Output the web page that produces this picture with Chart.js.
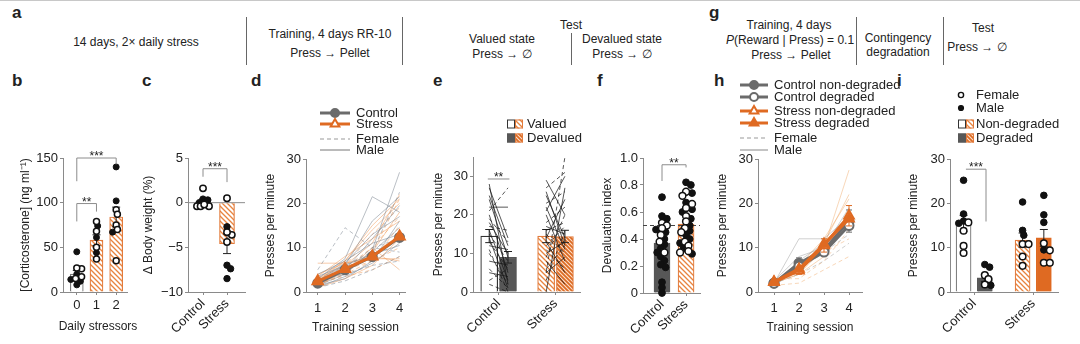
<!DOCTYPE html>
<html>
<head>
<meta charset="utf-8">
<script src="https://cdn.jsdelivr.net/npm/chart.js@4.4.1/dist/chart.umd.min.js"></script>
<style>
  body { margin: 0; background: #fff; width: 1080px; height: 344px; overflow: hidden; position: relative;
         font-family: 'Liberation Sans', Arial, Helvetica, sans-serif; color: #222; }
  canvas { position: absolute; }
  .t { position: absolute; font-size: 12px; line-height: 1; white-space: nowrap; transform: translate(-50%, -50%); }
  .L { position: absolute; font-weight: bold; font-size: 17px; line-height: 1; }
  .v { position: absolute; width: 1px; background: #666; }
</style>
</head>
<body>
<div style="position:absolute;left:0;top:0;width:1080px;height:1px;background:#c8c8c8"></div>

<div class="L" style="left:12px;top:4px">a</div>
<div class="t" style="left:136px;top:42px">14 days, 2× daily stress</div>
<div class="v" style="left:246px;top:17px;height:48px"></div>
<div class="t" style="left:330px;top:34px">Training, 4 days RR-10</div>
<div class="t" style="left:330px;top:53px">Press → Pellet</div>
<div class="v" style="left:402px;top:17px;height:48px"></div>
<div class="t" style="left:571px;top:25px">Test</div>
<div class="t" style="left:502px;top:39px">Valued state</div>
<div class="t" style="left:502px;top:54px">Press → ∅</div>
<div class="v" style="left:571px;top:33px;height:32px"></div>
<div class="t" style="left:622px;top:39px">Devalued state</div>
<div class="t" style="left:622px;top:54px">Press → ∅</div>

<div class="L" style="left:709px;top:4px">g</div>
<div class="t" style="left:789px;top:25px">Training, 4 days</div>
<div class="t" style="left:790px;top:40px"><i>P</i>(Reward | Press) = 0.1</div>
<div class="t" style="left:791px;top:55px">Press → Pellet</div>
<div class="v" style="left:856px;top:17px;height:48px"></div>
<div class="t" style="left:898px;top:38px">Contingency</div>
<div class="t" style="left:898px;top:52px">degradation</div>
<div class="v" style="left:943px;top:17px;height:48px"></div>
<div class="t" style="left:983px;top:28px">Test</div>
<div class="t" style="left:977px;top:47px">Press → ∅</div>

<div class="L" style="left:12px;top:72px">b</div>
<div class="L" style="left:142px;top:72px">c</div>
<div class="L" style="left:251px;top:72px">d</div>
<div class="L" style="left:433px;top:72px">e</div>
<div class="L" style="left:597px;top:72px">f</div>
<div class="L" style="left:714px;top:72px">h</div>
<div class="L" style="left:897px;top:72px">i</div>

<script>
// ---------- data ----------
// b: corticosterone by number of daily stressors
const bLabels = ['0', '1', '2'];
const bMeans = [20, 58, 84];
const bSem = [4, 6, 11];
const bFemale = [[26, 27, 17, 15], [79, 68, 50, 37], [92, 87, 75, 70, 35]];
const bMale = [[45, 20, 14, 12, 8], [74, 61, 44], [140, 102, 67]];

// c: body weight change
const cLabels = ['Control', 'Stress'];
const cMeans = [0.1, -4.6];
const cSem = [0.3, 1.1];
const cFemale = [[1.6, -0.4, -0.4, -0.4, -0.2], [0.5, -3.6, -3.3, -4.4]];
const cMale = [[0.4, 0.3, 0.0], [-2.7, -7.0, -7.4, -8.5]];

// d: training, presses per minute
const sessions = [1, 2, 3, 4];
const dCtrlMean = [2.0, 5.0, 8.0, 12.3];
const dStressMean = [2.4, 5.2, 8.0, 12.5];
const dCtrlMale = [
  [1.5, 4.0, 9.5, 27.0], [2.5, 6.0, 16.0, 21.5], [3.0, 7.5, 21.5, 18.0], [2.0, 5.0, 12.0, 19.5],
  [1.0, 3.5, 6.5, 11.0], [2.0, 4.5, 9.0, 14.5], [3.5, 6.0, 8.5, 10.5], [1.5, 3.0, 7.0, 16.0],
  [4.0, 7.0, 11.0, 13.0], [2.5, 6.5, 13.0, 17.0]
];
const dCtrlFemale = [
  [5.0, 14.5, 10.0, 12.0], [2.0, 5.0, 10.0, 9.0], [1.0, 2.5, 5.0, 8.0], [3.0, 4.0, 6.0, 7.0], [2.0, 6.0, 9.0, 22.5]
];
const dStressMale = [
  [3.0, 6.0, 11.0, 22.0], [2.0, 5.0, 9.0, 18.0], [3.0, 7.0, 14.0, 20.0], [1.0, 3.0, 6.0, 12.0],
  [4.0, 6.5, 8.0, 7.0], [3.5, 8.0, 12.0, 16.0], [6.5, 6.5, 7.5, 7.5], [2.5, 7.0, 15.0, 21.0], [1.5, 4.5, 10.0, 5.0]
];
const dStressFemale = [
  [1.5, 4.0, 7.0, 15.0], [2.5, 5.5, 10.0, 17.0], [2.0, 4.0, 9.0, 21.0], [1.5, 5.0, 7.0, 10.0],
  [2.0, 3.5, 5.0, 8.0], [3.0, 6.0, 13.0, 19.0]
];

// e: valued vs devalued test
const eMeans = { ctrl: [14.5, 9.0], stress: [14.5, 14.4] };
const eSem = { ctrl: [1.7, 1.5], stress: [1.7, 1.6] };
const eCtrlMale = [[28, 2], [27, 14], [25, 12], [22, 22], [20, 5], [18, 10], [16, 3], [14, 1], [12, 11], [8, 7], [5, 4], [24, 9]];
const eCtrlFemale = [[21, 27], [17, 16], [15, 8], [13, 6], [10, 2], [6, 1], [3, 6], [2, 0], [19, 13], [11, 0]];
const eStressMale = [[29, 20], [26, 12], [25, 14], [21, 30], [20, 8], [17, 15], [14, 24], [13, 5], [10, 13], [8, 2], [5, 9], [0, 27], [22, 11]];
const eStressFemale = [[5, 35], [27, 31], [23, 26], [18, 22], [16, 18], [15, 10], [12, 17], [9, 20], [6, 12], [3, 16], [11, 6]];

// f: devaluation index
const fMeans = [0.37, 0.51];
const fSem = [0.04, 0.03];
const fFemale = [
  [0.52, 0.50, 0.48, 0.43, 0.38, 0.30],
  [0.75, 0.72, 0.66, 0.63, 0.57, 0.53, 0.48, 0.45, 0.38, 0.35, 0.31, 0.30]
];
const fMale = [
  [0.71, 0.57, 0.55, 0.47, 0.45, 0.40, 0.36, 0.33, 0.30, 0.27, 0.24, 0.21, 0.19, 0.08, 0.04, 0.00],
  [0.82, 0.80, 0.74, 0.67, 0.62, 0.60, 0.55, 0.50, 0.46, 0.43, 0.40, 0.37, 0.33, 0.29]
];

// h: contingency degradation training
const hCtrlND = [2.0, 6.5, 9.5, 16.0];
const hCtrlD = [2.0, 5.8, 9.0, 15.0];
const hStressND = [2.2, 4.8, 10.5, 17.2];
const hStressD = [2.3, 5.2, 10.8, 16.5];
const hCtrlSem = [0.3, 1.2, 0.9, 2.5];
const hStressSem = [0.3, 0.8, 1.5, 2.3];
const hCtrlMale = [[2, 12, 12, 17], [2, 7, 11, 16], [2.5, 8, 10, 19]];
const hCtrlFemale = [[1.5, 5, 9, 13], [2, 4, 7, 11]];
const hStressMale = [[2, 4, 10, 27.5], [2, 5, 11, 22], [2, 6, 12, 21], [2, 4, 8, 17]];
const hStressFemale = [[3, 3, 7, 14], [1.5, 2, 5, 8], [2.5, 5, 9, 12]];

// i: degradation test
const iMeans = [15.5, 3.2, 11.7, 12.2];   // ctrl ND, ctrl D, stress ND, stress D
const iSem = [1.8, 0.8, 1.6, 1.9];
const iFemale = [[15.7, 13.8, 10.4, 8.8], [3.8, 2.9, 1.7], [10.8, 10.8, 8.0, 5.9], [11.0, 9.4, 6.6, 6.6]];
const iMale = [[25.2, 17.6, 16.0, 15.5], [6.2, 5.6, 1.5], [20.3, 13.9, 12.8], [21.8, 17.4, 15.7, 9.5]];

// ---------- styling ----------
Chart.defaults.font.family = "'Liberation Sans', Arial, Helvetica, sans-serif";
Chart.defaults.font.size = 13;
Chart.defaults.color = '#222';
Chart.defaults.animation = false;
Chart.defaults.events = [];
Chart.defaults.plugins.legend.display = false;
Chart.defaults.plugins.tooltip.enabled = false;

const AX = '#8a8a8a';
const GREY = '#6b6b6b';
const DARK = '#575757';
const ORANGE = '#df6a22';
const ORANGE_EDGE = '#e27b3c';

function hatch(bg, fg, s, w) {
  const c = document.createElement('canvas');
  c.width = c.height = s;
  const x = c.getContext('2d');
  x.fillStyle = bg; x.fillRect(0, 0, s, s);
  x.strokeStyle = fg; x.lineWidth = w;
  x.beginPath();
  x.moveTo(-1, -1); x.lineTo(s + 1, s + 1);
  x.moveTo(-1, s - 1); x.lineTo(1, s + 1);
  x.moveTo(s - 1, -1); x.lineTo(s + 1, 1);
  x.stroke();
  return x.createPattern(c, 'repeat');
}
const HATCH = hatch('#ffffff', '#e8843f', 5, 1.3);
const HATCH_DENSE = hatch('#dc6a22', '#fbe0cc', 4, 1.1);

// plot rectangles on the page
const G = {
  b: { L: 63, T: 158, R: 127, B: 292, yw: 49, xh: 47, pt: 20, pr: 16 },
  c: { L: 188, T: 158, R: 245, B: 292, yw: 51, xh: 50, pt: 20, pr: 6 },
  d: { L: 306, T: 159, R: 407, B: 292, yw: 47, xh: 47, pt: 60, pr: 6 },
  e: { L: 473, T: 157, R: 580, B: 292, yw: 46, xh: 50, pt: 45, pr: 6 },
  f: { L: 643, T: 158, R: 700, B: 293, yw: 47, xh: 50, pt: 20, pr: 6 },
  h: { L: 758, T: 159, R: 862, B: 292, yw: 47, xh: 47, pt: 82, pr: 40 },
  i: { L: 950, T: 159, R: 1058, B: 292, yw: 48, xh: 50, pt: 74, pr: 10 }
};

// ---------- plugins ----------
const errPlugin = {
  id: 'err',
  afterDatasetDraw(chart, args) {
    const ds = chart.data.datasets[args.index];
    if (!ds.sem) return;
    const ctx = chart.ctx, xs = chart.scales.x, ys = chart.scales.y;
    const cap = ds.cap || 4;
    ctx.save();
    ctx.strokeStyle = ds.semColor || '#222';
    ctx.lineWidth = 1;
    ds.data.forEach((p, j) => {
      const s = ds.sem[j];
      if (!s) return;
      const x = xs.getPixelForValue(p.x);
      const y1 = ys.getPixelForValue(p.y + s), y0 = ys.getPixelForValue(p.y - s);
      ctx.beginPath();
      ctx.moveTo(x, y0); ctx.lineTo(x, y1);
      ctx.moveTo(x - cap, y1); ctx.lineTo(x + cap, y1);
      ctx.moveTo(x - cap, y0); ctx.lineTo(x + cap, y0);
      ctx.stroke();
    });
    ctx.restore();
  }
};

function sigPlugin(items) {
  return {
    id: 'sig',
    afterDraw(chart) {
      const ctx = chart.ctx, xs = chart.scales.x, ys = chart.scales.y;
      ctx.save();
      ctx.strokeStyle = '#8c8c8c';
      ctx.lineWidth = 1;
      ctx.fillStyle = '#222';
      ctx.font = "12px 'Liberation Sans', Arial, sans-serif";
      ctx.textAlign = 'center';
      ctx.textBaseline = 'alphabetic';
      items.forEach(it => {
        const x1 = xs.getPixelForValue(it.x1), x2 = xs.getPixelForValue(it.x2), y = ys.getPixelForValue(it.y);
        ctx.beginPath();
        if (it.y1 != null) { ctx.moveTo(x1, ys.getPixelForValue(it.y1)); ctx.lineTo(x1, y); } else ctx.moveTo(x1, y);
        ctx.lineTo(x2, y);
        if (it.y2 != null) ctx.lineTo(x2, ys.getPixelForValue(it.y2));
        ctx.stroke();
        ctx.fillText(it.text, (x1 + x2) / 2, y + 2);
      });
      ctx.restore();
    }
  };
}

function keyPlugin(items) {
  return {
    id: 'keys',
    afterDraw(chart) {
      const ctx = chart.ctx;
      const ox = chart.canvas.offsetLeft, oy = chart.canvas.offsetTop;
      ctx.save();
      ctx.textBaseline = 'middle';
      items.forEach(it => {
        const x = it.x - ox, y = it.y - oy;
        if (it.kind === 'text') {
          ctx.fillStyle = '#222';
          ctx.textAlign = 'center';
          ctx.font = "12px 'Liberation Sans', Arial, sans-serif";
          ctx.fillText(it.text, x, y);
          ctx.textAlign = 'left';
          return;
        }
        if (it.kind === 'line') {
          ctx.strokeStyle = it.color; ctx.lineWidth = it.width;
          ctx.setLineDash(it.dash || []);
          ctx.beginPath(); ctx.moveTo(x, y); ctx.lineTo(x + it.len, y); ctx.stroke();
          ctx.setLineDash([]);
          if (it.marker) {
            ctx.fillStyle = it.mfill; ctx.strokeStyle = it.color; ctx.lineWidth = 2;
            Chart.helpers.drawPoint(ctx, { pointStyle: it.marker, radius: it.mr, borderWidth: 2, rotation: 0 }, x + it.len / 2, y);
          }
        } else if (it.kind === 'box2') {
          ctx.lineWidth = 1;
          ctx.fillStyle = it.left; ctx.fillRect(x, y - 4.5, 8, 9);
          ctx.strokeStyle = it.leftEdge; ctx.strokeRect(x + 0.5, y - 4, 7, 8);
          ctx.fillStyle = it.right; ctx.fillRect(x + 8, y - 4.5, 8, 9);
          ctx.strokeStyle = ORANGE_EDGE; ctx.strokeRect(x + 8.5, y - 4, 7, 8);
        } else if (it.kind === 'dot') {
          ctx.fillStyle = it.open ? '#fff' : '#111'; ctx.strokeStyle = '#111'; ctx.lineWidth = 1.4;
          ctx.beginPath(); ctx.arc(x, y, it.open ? 2.6 : 2.4, 0, Math.PI * 2); ctx.fill(); ctx.stroke();
        }
        ctx.fillStyle = '#222';
        ctx.font = "13px 'Liberation Sans', Arial, sans-serif";
        ctx.fillText(it.text, it.tx - ox, y);
      });
      ctx.restore();
    }
  };
}

// ---------- helpers ----------
function scaleX(g, range, ticks, labels, title, rot, pad) {
  return {
    type: 'linear', min: range[0], max: range[1], offset: false,
    afterBuildTicks: s => { s.ticks = ticks.map(v => ({ value: v })); },
    afterFit: s => { s.height = g.xh; },
    ticks: { autoSkip: false, minRotation: rot, maxRotation: rot, padding: pad, callback: v => labels[ticks.indexOf(v)] },
    grid: { display: true, offset: false, drawOnChartArea: false, drawTicks: true, tickLength: 3, color: AX },
    border: { display: true, color: AX, width: 1 },
    title: { display: !!title, text: title || '', font: { size: 12 }, padding: { top: 0, bottom: 4 } }
  };
}
function scaleY(g, range, ticks, labels, title) {
  return {
    type: 'linear', min: range[0], max: range[1],
    afterBuildTicks: s => { s.ticks = ticks.map(v => ({ value: v })); },
    afterFit: s => { s.width = g.yw; },
    ticks: { padding: 2, callback: v => labels[ticks.indexOf(v)] },
    grid: { display: true, offset: false, drawOnChartArea: false, drawTicks: true, tickLength: 3, color: AX },
    border: { display: true, color: AX, width: 1 },
    title: { display: true, text: title, font: { size: 12 }, padding: { top: 4, bottom: 0 } }
  };
}

function panel(g, datasets, scales, sig, keys) {
  const c = document.createElement('canvas');
  const w = g.R - g.L + g.yw + g.pr, h = g.B - g.T + g.pt + g.xh;
  c.width = w; c.height = h;
  c.style.left = (g.L - g.yw) + 'px'; c.style.top = (g.T - g.pt) + 'px';
  c.style.width = w + 'px'; c.style.height = h + 'px';
  document.body.appendChild(c);
  return new Chart(c, {
    type: 'bar',
    data: { datasets },
    options: {
      responsive: false, devicePixelRatio: 1,
      layout: { padding: { top: g.pt, right: g.pr, left: 0, bottom: 0 } },
      scales
    },
    plugins: [errPlugin, sigPlugin(sig || []), keyPlugin(keys || [])]
  });
}

// place overlapping dots side by side (simple beeswarm in pixel space)
function swarm(groups, pxX, pxY, r, maxOff) {
  const pts = [];
  groups.forEach((vals, gi) => vals.forEach((v, i) => pts.push({ gi, i, v })));
  pts.sort((a, b) => b.v - a.v);
  const placed = [];
  const out = groups.map(v => v.map(() => 0));
  const minD = 2 * r * 0.75;
  const steps = Math.floor(maxOff / 1.2) * 2 + 1;
  pts.forEach(p => {
    const y = p.v * pxY;
    let best = 0, bestGap = -1;
    for (let k = 0; k < steps; k++) {
      const off = (k % 2 ? 1 : -1) * Math.ceil(k / 2) * 1.2;
      let gap = Infinity;
      placed.forEach(q => { gap = Math.min(gap, Math.hypot(off - q.x, y - q.y)); });
      if (gap >= minD) { best = off; break; }
      if (gap > bestGap) { bestGap = gap; best = off; }
    }
    placed.push({ x: best, y });
    out[p.gi][p.i] = best / pxX;
  });
  return out;
}

function dotSets(females, males, centers, g, xr, yr, r, maxOff) {
  const pxX = (g.R - g.L) / (xr[1] - xr[0]), pxY = (g.B - g.T) / (yr[1] - yr[0]);
  const F = [], M = [];
  centers.forEach((cx, k) => {
    const off = swarm([females[k], males[k]], pxX, pxY, r, maxOff);
    females[k].forEach((v, i) => F.push({ x: cx + off[0][i], y: v }));
    males[k].forEach((v, i) => M.push({ x: cx + off[1][i], y: v }));
  });
  return [
    { type: 'scatter', data: M, pointRadius: r, pointBackgroundColor: '#111', pointBorderColor: '#111', pointBorderWidth: 1, order: 1, clip: false },
    { type: 'scatter', data: F, pointRadius: r, pointBackgroundColor: '#fff', pointBorderColor: '#111', pointBorderWidth: 1.5, order: 0, clip: false }
  ];
}

function bar(x, y, fill, edge, thick, sem, semColor) {
  return { type: 'bar', data: [{ x, y }], backgroundColor: fill, borderColor: edge, borderWidth: 1.2,
           barThickness: thick, grouped: false, order: 5, sem: sem != null ? [sem] : null, semColor, clip: false };
}

function refLine(x0, x1, y, color, dash) {
  return { type: 'line', data: [{ x: x0, y }, { x: x1, y }], borderColor: color, borderWidth: 1,
           borderDash: dash || [], pointRadius: 0, order: 3, clip: false };
}

function traces(rows, xs, color, dash) {
  return rows.map(r => ({
    type: 'line', data: r.map((v, i) => ({ x: xs[i], y: v })), borderColor: color, borderWidth: 1,
    borderDash: dash, pointRadius: 0, tension: 0, order: 8, clip: false
  }));
}

function meanLine(vals, color, style, fill, radius, order, sem) {
  return {
    type: 'line', data: vals.map((v, i) => ({ x: sessions[i], y: v })), borderColor: color, borderWidth: 3,
    pointStyle: style, pointRadius: radius, pointBackgroundColor: fill, pointBorderColor: color, pointBorderWidth: 2,
    order, clip: false, sem, semColor: color, cap: 3
  };
}

// ---------- b ----------
(() => {
  const g = G.b, xr = [-0.7, 2.55], yr = [0, 150];
  const xs = [0, 1, 2];
  const ds = [
    bar(0, bMeans[0], '#fff', '#7a7a7a', 13, bSem[0]),
    bar(1, bMeans[1], HATCH, ORANGE_EDGE, 13, bSem[1]),
    bar(2, bMeans[2], HATCH, ORANGE_EDGE, 13, bSem[2]),
    ...dotSets(bFemale, bMale, xs, g, xr, yr, 3, 6)
  ];
  panel(g, ds, {
    x: scaleX(g, xr, xs, bLabels, '', 0, 3),
    y: scaleY(g, yr, [0, 50, 100, 150], ['0', '50', '100', '150'], '[Corticosterone] (ng ml⁻¹)')
  }, [
    { x1: 0, x2: 1, y: 99, y1: 79, y2: 90, text: '**' },
    { x1: 0, x2: 2, y: 150, y1: 124, y2: 143, text: '***' }
  ], [{ kind: 'text', x: 98, y: 327, text: 'Daily stressors' }]);
})();

// ---------- c ----------
(() => {
  const g = G.c, xr = [0.375, 2.75], yr = [-10, 5];
  const xs = [1, 2];
  const ds = [
    bar(1, cMeans[0], '#fff', '#333', 15, cSem[0]),
    bar(2, cMeans[1], HATCH, ORANGE_EDGE, 15, cSem[1]),
    refLine(xr[0], xr[1], 0, '#8c8c8c'),
    ...dotSets(cFemale, cMale, xs, g, xr, yr, 3.2, 7)
  ];
  panel(g, ds, {
    x: scaleX(g, xr, xs, cLabels, '', 45, 1),
    y: scaleY(g, yr, [-10, -5, 0, 5], ['−10', '−5', '0', '5'], 'Δ Body weight (%)')
  }, [{ x1: 1, x2: 2, y: 3.8, y1: 2.9, y2: 2.3, text: '***' }]);
})();

// ---------- d ----------
(() => {
  const g = G.d, xr = [0.57, 4.2], yr = [0, 30];
  const ds = [
    ...traces(dCtrlMale, sessions, 'rgba(130,138,150,0.55)', []),
    ...traces(dCtrlFemale, sessions, 'rgba(130,138,150,0.55)', [4, 3]),
    ...traces(dStressMale, sessions, 'rgba(240,160,100,0.55)', []),
    ...traces(dStressFemale, sessions, 'rgba(240,160,100,0.55)', [4, 3]),
    meanLine(dCtrlMean, GREY, 'circle', GREY, 4.5, 2),
    meanLine(dStressMean, ORANGE, 'triangle', ORANGE, 6, 1)
  ];
  panel(g, ds, {
    x: scaleX(g, xr, sessions, ['1', '2', '3', '4'], 'Training session', 0, 6),
    y: scaleY(g, yr, [0, 10, 20, 30], ['0', '10', '20', '30'], 'Presses per minute')
  }, [], [
    { kind: 'line', x: 320, y: 113, len: 30, color: GREY, width: 3, marker: 'circle', mfill: GREY, mr: 4, text: 'Control', tx: 356 },
    { kind: 'line', x: 320, y: 124, len: 30, color: ORANGE, width: 3, marker: 'triangle', mfill: '#fff', mr: 5, text: 'Stress', tx: 356 },
    { kind: 'line', x: 320, y: 139, len: 30, color: '#999', width: 1, dash: [4, 3], text: 'Female', tx: 356 },
    { kind: 'line', x: 320, y: 150, len: 30, color: '#777', width: 1, text: 'Male', tx: 356 }
  ]);
})();

// ---------- e ----------
(() => {
  const g = G.e, xr = [0.55, 2.43], yr = [0, 35];
  const off = 0.165;
  const pair = (rows, cx, dash) => rows.map(r => ({
    type: 'line', data: [{ x: cx - off, y: r[0] }, { x: cx + off, y: r[1] }], borderColor: 'rgba(20,20,20,0.8)',
    borderWidth: 0.9, borderDash: dash, pointRadius: 0, order: 2, clip: false
  }));
  const ds = [
    bar(1 - off, eMeans.ctrl[0], '#fff', '#333', 17, eSem.ctrl[0]),
    bar(1 + off, eMeans.ctrl[1], DARK, DARK, 17, eSem.ctrl[1]),
    bar(2 - off, eMeans.stress[0], HATCH, ORANGE_EDGE, 17, eSem.stress[0]),
    bar(2 + off, eMeans.stress[1], HATCH_DENSE, ORANGE_EDGE, 17, eSem.stress[1]),
    ...pair(eCtrlMale, 1, []), ...pair(eCtrlFemale, 1, [4, 3]),
    ...pair(eStressMale, 2, []), ...pair(eStressFemale, 2, [4, 3])
  ];
  panel(g, ds, {
    x: scaleX(g, xr, [1, 2], ['Control', 'Stress'], '', 45, 1),
    y: scaleY(g, yr, [0, 10, 20, 30], ['0', '10', '20', '30'], 'Presses per minute')
  }, [{ x1: 0.81, x2: 1.19, y: 29.3, text: '**' }], [
    { kind: 'box2', x: 507, y: 124, left: '#fff', leftEdge: '#333', right: HATCH, text: 'Valued', tx: 527 },
    { kind: 'box2', x: 507, y: 138, left: DARK, leftEdge: DARK, right: HATCH_DENSE, text: 'Devalued', tx: 527 }
  ]);
})();

// ---------- f ----------
(() => {
  const g = G.f, xr = [0.21, 2.58], yr = [0, 1];
  const xs = [1, 2];
  const ds = [
    bar(1, fMeans[0], DARK, DARK, 16, fSem[0]),
    bar(2, fMeans[1], HATCH, ORANGE_EDGE, 16, fSem[1]),
    refLine(xr[0], xr[1], 0.5, '#444', [4, 3]),
    ...dotSets(fFemale, fMale, xs, g, xr, yr, 3.4, 7)
  ];
  panel(g, ds, {
    x: scaleX(g, xr, xs, ['Control', 'Stress'], '', 45, 1),
    y: scaleY(g, yr, [0, 0.2, 0.4, 0.6, 0.8, 1.0], ['0', '0.2', '0.4', '0.6', '0.8', '1.0'], 'Devaluation index')
  }, [{ x1: 1, x2: 2, y: 0.95, y1: 0.83, y2: 0.93, text: '**' }]);
})();

// ---------- h ----------
(() => {
  const g = G.h, xr = [0.36, 4.52], yr = [0, 30];
  const ds = [
    ...traces(hCtrlMale, sessions, 'rgba(150,150,150,0.45)', []),
    ...traces(hCtrlFemale, sessions, 'rgba(150,150,150,0.45)', [4, 3]),
    ...traces(hStressMale, sessions, 'rgba(242,175,115,0.5)', []),
    ...traces(hStressFemale, sessions, 'rgba(242,175,115,0.5)', [4, 3]),
    meanLine(hCtrlND, GREY, 'circle', GREY, 4.5, 4, hCtrlSem),
    meanLine(hCtrlD, GREY, 'circle', '#fff', 4.5, 3),
    meanLine(hStressND, ORANGE, 'triangle', '#fff', 5.5, 2, hStressSem),
    meanLine(hStressD, ORANGE, 'triangle', ORANGE, 5.5, 1)
  ];
  panel(g, ds, {
    x: scaleX(g, xr, sessions, ['1', '2', '3', '4'], 'Training session', 0, 6),
    y: scaleY(g, yr, [0, 10, 20, 30], ['0', '10', '20', '30'], 'Presses per minute')
  }, [], [
    { kind: 'line', x: 740, y: 85, len: 28, color: GREY, width: 3, marker: 'circle', mfill: GREY, mr: 4, text: 'Control non-degraded', tx: 774 },
    { kind: 'line', x: 740, y: 97, len: 28, color: GREY, width: 3, marker: 'circle', mfill: '#fff', mr: 4, text: 'Control degraded', tx: 774 },
    { kind: 'line', x: 740, y: 111, len: 28, color: ORANGE, width: 3, marker: 'triangle', mfill: '#fff', mr: 5, text: 'Stress non-degraded', tx: 774 },
    { kind: 'line', x: 740, y: 123, len: 28, color: ORANGE, width: 3, marker: 'triangle', mfill: ORANGE, mr: 5, text: 'Stress degraded', tx: 774 },
    { kind: 'line', x: 740, y: 138, len: 28, color: '#999', width: 1, dash: [4, 3], text: 'Female', tx: 774 },
    { kind: 'line', x: 740, y: 150, len: 28, color: '#888', width: 1, text: 'Male', tx: 774 }
  ]);
})();

// ---------- i ----------
(() => {
  const g = G.i, xr = [0.59, 2.42], yr = [0, 30];
  const xs = [0.82, 1.18, 1.82, 2.18];
  const ds = [
    bar(xs[0], iMeans[0], '#fff', '#7a7a7a', 15, iSem[0]),
    bar(xs[1], iMeans[1], DARK, DARK, 15, iSem[1]),
    bar(xs[2], iMeans[2], HATCH, ORANGE_EDGE, 15, iSem[2]),
    bar(xs[3], iMeans[3], ORANGE, ORANGE, 15, iSem[3]),
    ...dotSets(iFemale, iMale, xs, g, xr, yr, 3.3, 6)
  ];
  panel(g, ds, {
    x: scaleX(g, xr, [1, 2], ['Control', 'Stress'], '', 45, 1),
    y: scaleY(g, yr, [0, 10, 20, 30], ['0', '10', '20', '30'], 'Presses per minute')
  }, [{ x1: 0.86, x2: 1.2, y: 27.7, y2: 15.9, text: '***' }], [
    { kind: 'dot', x: 961, y: 95, open: true, text: 'Female', tx: 976 },
    { kind: 'dot', x: 961, y: 108, open: false, text: 'Male', tx: 976 },
    { kind: 'box2', x: 958, y: 124, left: '#fff', leftEdge: '#333', right: HATCH, text: 'Non-degraded', tx: 976 },
    { kind: 'box2', x: 958, y: 138, left: DARK, leftEdge: DARK, right: HATCH_DENSE, text: 'Degraded', tx: 976 }
  ]);
})();
</script>
</body>
</html>
